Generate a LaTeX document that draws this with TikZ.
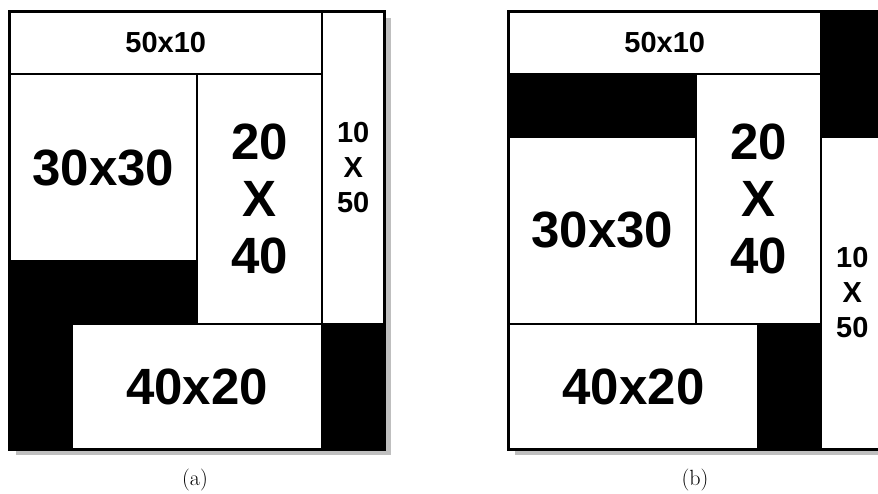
\documentclass[tikz,border=0pt]{standalone}
\usepackage{fontspec}
\newfontfamily\cellfont{Liberation Sans}
\tikzset{
  cell/.style={draw=black, fill=white, line width=2.5pt, rectangle, inner sep=0pt, outer sep=0pt,
    align=center, font=\cellfont\bfseries},
  big/.style={font=\cellfont\bfseries\fontsize{51}{57}\selectfont},
  small/.style={font=\cellfont\bfseries\fontsize{29}{35}\selectfont},
  panelframe/.style={draw=black, line width=3pt},
  dropshadow/.style={fill=black!25},
  captext/.style={font=\fontsize{22}{26}\selectfont}
}
\begin{document}
\begin{tikzpicture}[x=1pt,y=-1pt]
\useasboundingbox (0,0) rectangle (878,493);
\clip (0,0) rectangle (878,493);
% ---------- panel (a) ----------
\begin{scope}[shift={(9.5,11.5)}]
  \fill[dropshadow] (6,6) rectangle (381,443.5);
  \fill[black] (0,0) rectangle (375,437.5);
  \node[cell, small, minimum width=312.5pt, minimum height=62.5pt] (a5010) at (156.25,31.25) {50x10};
  \node[cell, small, minimum width=62.5pt, minimum height=312.5pt] (a1050) at (343.75,156.25) {10\\X\\50};
  \node[cell, big, minimum width=187.5pt, minimum height=187.5pt] (a3030) at (93.75,156.25) {30x30};
  \node[cell, big, minimum width=125pt, minimum height=250pt] (a2040) at (250,187.5) {20\\X\\40};
  \node[cell, big, minimum width=250pt, minimum height=125pt] (a4020) at (187.5,375) {40x20};
  \draw[panelframe] (0,0) rectangle (375,437.5);
\end{scope}
\node[captext] (capa) at (195,480) {(a)};
% ---------- panel (b) ----------
\begin{scope}[shift={(508.5,11.5)}]
  \fill[dropshadow] (6,6) rectangle (381,443.5);
  \fill[black] (0,0) rectangle (375,437.5);
  \node[cell, small, minimum width=312.5pt, minimum height=62.5pt] (b5010) at (156.25,31.25) {50x10};
  \node[cell, small, minimum width=62.5pt, minimum height=312.5pt] (b1050) at (343.75,281.25) {10\\X\\50};
  \node[cell, big, minimum width=187.5pt, minimum height=187.5pt] (b3030) at (93.75,218.75) {30x30};
  \node[cell, big, minimum width=125pt, minimum height=250pt] (b2040) at (250,187.5) {20\\X\\40};
  \node[cell, big, minimum width=250pt, minimum height=125pt] (b4020) at (125,375) {40x20};
  \draw[panelframe] (0,0) rectangle (375,437.5);
\end{scope}
\node[captext] (capb) at (695,480) {(b)};
\end{tikzpicture}
\end{document}
